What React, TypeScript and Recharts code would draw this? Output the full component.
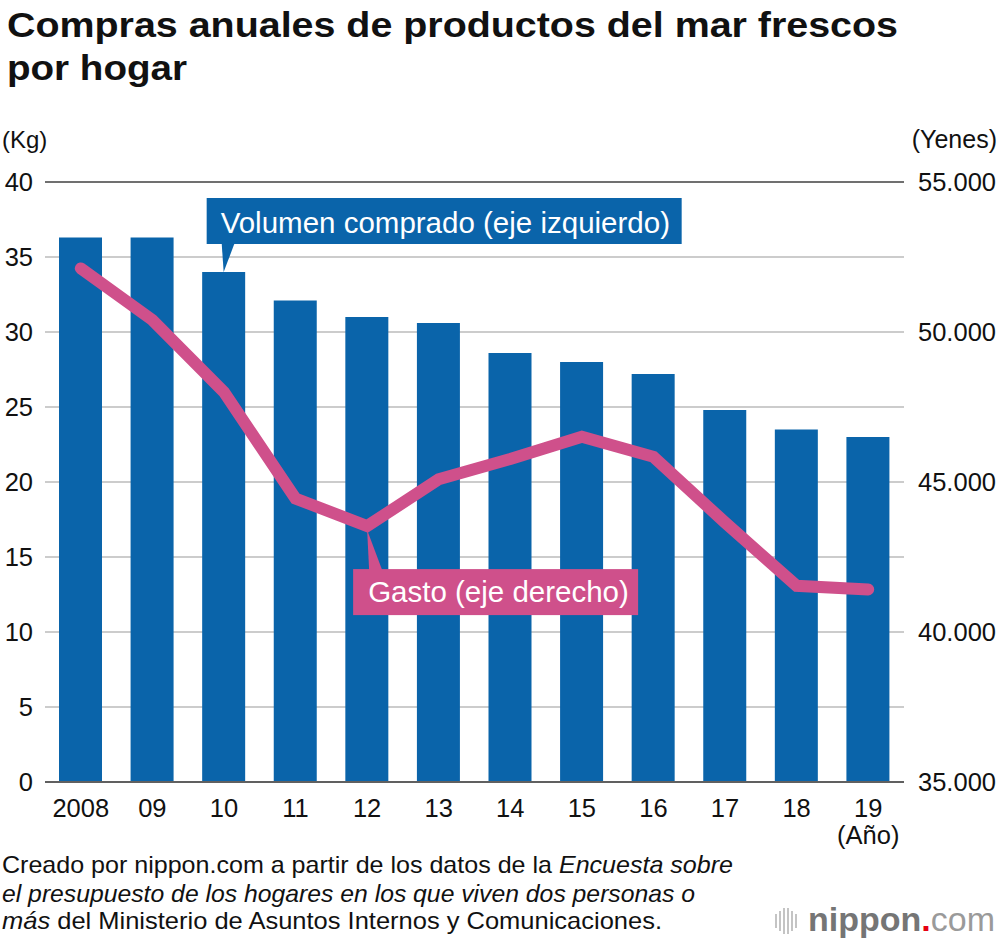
import { ComposedChart, Bar, Line, XAxis, YAxis, CartesianGrid, ReferenceLine, LabelList } from "recharts";

const YEARS = ["2008", "09", "10", "11", "12", "13", "14", "15", "16", "17", "18", "19"];
const VOLUME_KG = [36.3, 36.3, 34.0, 32.1, 31.0, 30.6, 28.6, 28.0, 27.2, 24.8, 23.5, 23.0];
const SPENDING_YEN = [52120, 50400, 48000, 44450, 43530, 45090, 45770, 46510, 45840, 43650, 41540, 41420];
const KG_TICKS = [0, 5, 10, 15, 20, 25, 30, 35, 40];
const YEN_TICKS = [35000, 40000, 45000, 50000, 55000];

const BLUE = "#0a64aa";
const PINK = "#cf508b";
const FONT = "'Liberation Sans', Arial, Helvetica, sans-serif";

const data = YEARS.map((year, i) => ({ year, kg: VOLUME_KG[i], yen: SPENDING_YEN[i] }));

const fmtYen = (v: number) => `${Math.round(v / 1000)}.000`;

function YearTick({ x, y, payload, index }: any) {
  return (
    <g>
      <text x={x} y={y + 35} textAnchor="middle" fontSize={25.5} fill="#111" fontFamily={FONT}>
        {payload.value}
      </text>
      {index === YEARS.length - 1 && (
        <text x={x} y={y + 62} textAnchor="middle" fontSize={25.5} fill="#111" fontFamily={FONT}>
          (Año)
        </text>
      )}
    </g>
  );
}

// callout for the bars, pinned to the 2010 bar
function VolumeCallout({ x, y, width, index }: any) {
  if (index !== 2) return null;
  const tipX = x + width / 2;
  const left = tipX - 17;
  const top = y - 74;
  return (
    <g>
      <rect x={left} y={top} width={475} height={46} fill={BLUE} />
      <polygon points={`${tipX - 2},${top + 45} ${tipX + 11},${top + 45} ${tipX},${y}`} fill={BLUE} />
      <text x={left + 14} y={top + 35} fill="#fff" fontSize={29.5} fontFamily={FONT}>
        Volumen comprado (eje izquierdo)
      </text>
    </g>
  );
}

// callout for the line, pinned to the 2012 point
function SpendingCallout({ x, y, index }: any) {
  if (index !== 4) return null;
  const left = x - 14;
  const top = y + 43;
  return (
    <g>
      <polygon points={`${x},${y + 4} ${x + 2},${top + 1} ${x + 15},${top + 1}`} fill={PINK} />
      <rect x={left} y={top} width={285} height={46} fill={PINK} />
      <text x={left + 15} y={top + 33} fill="#fff" fontSize={29.5} fontFamily={FONT}>
        Gasto (eje derecho)
      </text>
    </g>
  );
}

export default function App() {
  return (
    <div style={{ position: "absolute", left: 0, top: 0, width: 1000, height: 944, background: "#fff", fontFamily: FONT }}>
      <ComposedChart width={1000} height={944} data={data} margin={{ top: 182, right: 0, bottom: 102, left: 0 }}>
        <CartesianGrid yAxisId="kg" vertical={false} stroke="#cccccc" strokeWidth={2} />
        <XAxis
          dataKey="year"
          height={60}
          interval={0}
          tickLine={false}
          tickSize={0}
          tickMargin={0}
          axisLine={{ stroke: "#606060", strokeWidth: 2 }}
          tick={<YearTick />}
        />
        <YAxis
          yAxisId="kg"
          width={45}
          domain={[0, 40]}
          ticks={KG_TICKS}
          axisLine={false}
          tickLine={false}
          tickSize={0}
          tickMargin={12}
          tick={{ fontSize: 25.5, fill: "#111", fontFamily: FONT }}
        />
        <YAxis
          yAxisId="yen"
          orientation="right"
          width={96}
          domain={[35000, 55000]}
          ticks={YEN_TICKS}
          tickFormatter={fmtYen}
          axisLine={false}
          tickLine={false}
          tickSize={0}
          tickMargin={14}
          tick={{ fontSize: 25.5, fill: "#111", fontFamily: FONT }}
        />
        <ReferenceLine yAxisId="kg" y={40} stroke="#707070" strokeWidth={2} />
        <Bar yAxisId="kg" dataKey="kg" fill={BLUE} barSize={43} isAnimationActive={false}>
          <LabelList dataKey="kg" content={<VolumeCallout />} />
        </Bar>
        <Line
          yAxisId="yen"
          type="linear"
          dataKey="yen"
          stroke={PINK}
          strokeWidth={12}
          strokeLinecap="round"
          dot={false}
          activeDot={false}
          isAnimationActive={false}
        >
          <LabelList dataKey="yen" content={<SpendingCallout />} />
        </Line>
      </ComposedChart>

      <svg width={1000} height={944} style={{ position: "absolute", left: 0, top: 0, pointerEvents: "none" }}>
        <g fontFamily={FONT} fill="#111">
          <text x={7} y={37} fontSize={35} fontWeight="bold" textLength={891} lengthAdjust="spacingAndGlyphs">
            Compras anuales de productos del mar frescos
          </text>
          <text x={7} y={80} fontSize={35} fontWeight="bold" textLength={180} lengthAdjust="spacingAndGlyphs">
            por hogar
          </text>
          <text x={2} y={148} fontSize={24}>(Kg)</text>
          <text x={997} y={148} fontSize={25} textAnchor="end">(Yenes)</text>
          <text x={2} y={873} fontSize={24} textLength={731} lengthAdjust="spacingAndGlyphs">
            Creado por nippon.com a partir de los datos de la <tspan fontStyle="italic">Encuesta sobre</tspan>
          </text>
          <text x={2} y={902} fontSize={24} fontStyle="italic" textLength={693} lengthAdjust="spacingAndGlyphs">
            el presupuesto de los hogares en los que viven dos personas o
          </text>
          <text x={2} y={929} fontSize={24} textLength={660} lengthAdjust="spacingAndGlyphs">
            <tspan fontStyle="italic">más</tspan> del Ministerio de Asuntos Internos y Comunicaciones.
          </text>
        </g>
        <g fill="#c4c4c4">
          <rect x={775} y={914} width={2} height={14} />
          <rect x={779} y={911} width={2} height={20} />
          <rect x={783} y={908} width={2} height={26} />
          <rect x={787} y={908} width={2} height={26} />
          <rect x={791} y={911} width={2} height={20} />
          <rect x={795} y={914} width={2} height={14} />
        </g>
        <text x={808} y={931} fontSize={34} fontFamily={FONT}>
          <tspan fill="#757575" fontWeight="bold">nippon</tspan>
          <tspan fill="#e60012" fontWeight="bold">.</tspan>
          <tspan fill="#9a9a9a">com</tspan>
        </text>
      </svg>
    </div>
  );
}
